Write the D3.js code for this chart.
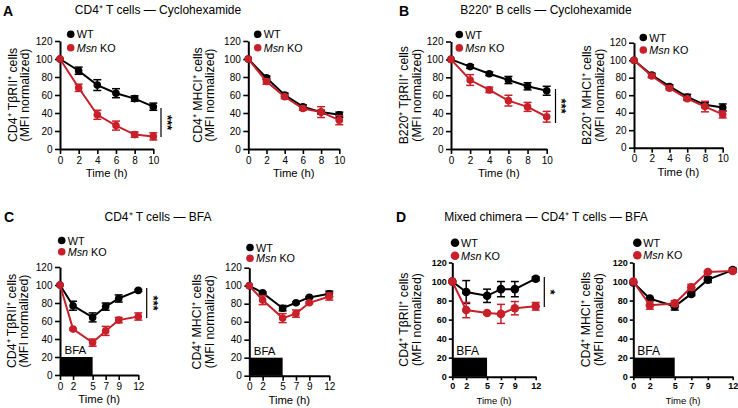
<!DOCTYPE html>
<html><head><meta charset="utf-8">
<script src="https://cdn.jsdelivr.net/npm/d3@7"></script>
<style>
html,body{margin:0;padding:0;background:#fff;}
svg text{font-family:"Liberation Sans",Arial,Helvetica,sans-serif;fill:#000;}
</style></head>
<body><svg id="chart" width="738" height="408"></svg>
<script>
// ---------- data ----------
const cycloTime = [0, 2, 4, 6, 8, 10];
const bfaTime = [0, 2, 5, 7, 9, 12];
const yTicks = [0, 20, 40, 60, 80, 100, 120];
const seriesNames = ["WT", "Msn KO"];

// A: CD4+ T cells — Cyclohexamide
const aTbrWT = [100, 87, 71, 62, 56, 47];
const aTbrWTErr = [0, 4, 6, 5, 3, 4];
const aTbrKO = [100, 68, 38, 26, 16, 14];
const aTbrKOErr = [0, 4, 5, 5, 3, 4];
const aMhcWT = [100, 79, 60, 47, 41, 38];
const aMhcWTErr = [0, 2, 2, 2, 2, 3];
const aMhcKO = [100, 75, 58, 45, 41, 32];
const aMhcKOErr = [0, 3, 2, 2, 6, 5];
// B: B220+ B cells — Cyclohexamide
const bTbrWT = [100, 92, 84, 77, 70, 65];
const bTbrWTErr = [0, 2, 2, 4, 4, 5];
const bTbrKO = [100, 77, 66, 54, 47, 36];
const bTbrKOErr = [0, 6, 3, 6, 5, 6];
const bMhcWT = [100, 83, 70, 58, 49, 46];
const bMhcWTErr = [0, 2, 2, 3, 3, 4];
const bMhcKO = [100, 82, 68, 56, 47, 38];
const bMhcKOErr = [0, 2, 2, 2, 6, 4];
// C: CD4+ T cells — BFA
const cTbrWT = [100, 77, 64, 76, 85, 94];
const cTbrWTErr = [0, 5, 5, 4, 4, 1];
const cTbrKO = [100, 51, 36, 49, 61, 65];
const cTbrKOErr = [0, 1, 4, 5, 3, 4];
const cMhcWT = [100, 92, 75, 81, 87, 91];
const cMhcWTErr = [0, 1, 3, 1, 1, 3];
const cMhcKO = [100, 84, 64, 69, 81, 88];
const cMhcKOErr = [0, 5, 5, 4, 1, 4];
// D: Mixed chimera — CD4+ T cells — BFA
const dTbrWT = [100, 89, 85, 92, 92, 103];
const dTbrWTErr = [0, 12, 7, 8, 8, 2];
const dTbrKO = [100, 70, 67, 66, 72, 74];
const dTbrKOErr = [0, 8, 1, 10, 7, 4];
const dMhcWT = [99, 82, 74, 87, 102, 112];
const dMhcWTErr = [0, 1, 4, 2, 3, 2];
const dMhcKO = [100, 75, 77, 94, 110, 111];
const dMhcKOErr = [0, 4, 3, 3, 1, 1];
const bfaWindow = [0, 5];   // hours of BFA treatment
const bfaBarHeight = 20;    // drawn height of the BFA bar in axis units

// ---------- helpers ----------
const RED = "#c8202a";
const svg = d3.select("#chart");

const titles = [
  {letter: "A", lx: 3, ly: 16, text: "CD4⁺ T cells — Cyclohexamide", cx: 158, cy: 14},
  {letter: "B", lx: 399, ly: 16, text: "B220⁺ B cells — Cyclohexamide", cx: 546, cy: 14},
  {letter: "C", lx: 4, ly: 222, text: "CD4⁺ T cells — BFA", cx: 158, cy: 221},
  {letter: "D", lx: 396, ly: 222, text: "Mixed chimera — CD4⁺ T cells — BFA", cx: 546, cy: 221}
];

const plots = [
  {time: cycloTime, xmax: 10, box: [60, 153.3, 149, 41], ylabel: "CD4⁺ TβRII⁺ cells",
   wt: aTbrWT, wtErr: aTbrWTErr, ko: aTbrKO, koErr: aTbrKOErr,
   leg: [70.7, 34.3, 13.4], ylx: [13, 25], sig: {x: 161, y1: 108, y2: 137, t: "***", tx: 167}},
  {time: cycloTime, xmax: 10, box: [248.3, 339.3, 149, 41], ylabel: "CD4⁺ MHCI⁺ cells",
   wt: aMhcWT, wtErr: aMhcWTErr, ko: aMhcKO, koErr: aMhcKOErr,
   leg: [257.7, 34.3, 13.4], ylx: [198, 210]},
  {time: cycloTime, xmax: 10, box: [451, 546.7, 149, 41.5], ylabel: "B220⁺ TβRII⁺ cells",
   wt: bTbrWT, wtErr: bTbrWTErr, ko: bTbrKO, koErr: bTbrKOErr,
   leg: [459.3, 34.5, 13.4], ylx: [404, 417], sig: {x: 555.5, y1: 89, y2: 123, t: "***", tx: 561.5}},
  {time: cycloTime, xmax: 10, box: [634, 722.7, 147.7, 42.7], ylabel: "B220⁺ MHCI⁺ cells",
   wt: bMhcWT, wtErr: bMhcWTErr, ko: bMhcKO, koErr: bMhcKOErr,
   leg: [643.3, 37.5, 12.5], ylx: [587, 600]},
  {time: bfaTime, xmax: 12, box: [60, 138.3, 375, 267], ylabel: "CD4⁺ TβRII⁺ cells",
   wt: cTbrWT, wtErr: cTbrWTErr, ko: cTbrKO, koErr: cTbrKOErr, bfa: true,
   leg: [61.7, 240.5, 11.2], ylx: [12, 24], sig: {x: 146.7, y1: 288, y2: 318, t: "***", tx: 153}},
  {time: bfaTime, xmax: 12, box: [249.3, 329.3, 375.7, 267.7], ylabel: "CD4⁺ MHCI⁺ cells",
   wt: cMhcWT, wtErr: cMhcWTErr, ko: cMhcKO, koErr: cMhcKOErr, bfa: true,
   leg: [250, 247.5, 10.8], ylx: [197, 210]},
  {time: bfaTime, xmax: 12, box: [452.3, 535.7, 376.7, 262.5], ylabel: "CD4⁺ TβRII⁺ cells",
   wt: dTbrWT, wtErr: dTbrWTErr, ko: dTbrKO, koErr: dTbrKOErr, bfa: true, small: true,
   leg: [455, 242.7, 13], ylx: [404, 417], sig: {x: 544.3, y1: 277, y2: 307, t: "*", tx: 550}},
  {time: bfaTime, xmax: 12, box: [633.3, 732.7, 376.7, 262.5], ylabel: "CD4⁺ MHCI⁺ cells",
   wt: dMhcWT, wtErr: dMhcWTErr, ko: dMhcKO, koErr: dMhcKOErr, bfa: true, small: true,
   leg: [637.3, 242.7, 12.5], ylx: [586, 599]}
];

// ---------- titles ----------
titles.forEach(t => {
  svg.append("text").attr("x", t.lx).attr("y", t.ly).attr("font-size", 14)
    .attr("font-weight", "bold").text(t.letter);
  svg.append("text").attr("x", t.cx).attr("y", t.cy).attr("font-size", 12)
    .attr("text-anchor", "middle").text(t.text);
});

// ---------- panels ----------
plots.forEach(p => {
  const [x0, x1, yb, yt] = p.box;
  const x = d3.scaleLinear().domain([0, p.xmax]).range([x0, x1]);
  const y = d3.scaleLinear().domain([0, 120]).range([yb, yt]);
  const g = svg.append("g");
  const tickFont = p.small ? 9 : 10;

  // BFA bar
  if (p.bfa) {
    g.append("rect").attr("x", x(bfaWindow[0])).attr("y", y(bfaBarHeight))
      .attr("width", x(bfaWindow[1]) - x(bfaWindow[0]))
      .attr("height", y(0) - y(bfaBarHeight)).attr("fill", "#000");
    g.append("text").attr("x", x(bfaWindow[0]) + (p.small ? 4 : 4.5))
      .attr("y", y(bfaBarHeight) - 3).attr("font-size", p.small ? 12 : 11.5).text("BFA");
  }

  // axes
  const ya = g.append("g").attr("transform", `translate(${x0},0)`)
    .call(d3.axisLeft(y).tickValues(yTicks).tickSize(p.small ? 3.5 : 5).tickPadding(p.small ? 2 : 2.5).tickSizeOuter(0));
  const xa = g.append("g").attr("transform", `translate(0,${yb})`)
    .call(d3.axisBottom(x).tickValues(p.time).tickSize(p.small ? 3.5 : 5).tickPadding(p.small ? 2 : 2.5).tickSizeOuter(0));
  [ya, xa].forEach(a => {
    a.select(".domain").attr("stroke", "#000").attr("stroke-width", 2);
    a.selectAll(".tick line").attr("stroke", "#000").attr("stroke-width", 1.6);
    a.selectAll(".tick text").attr("font-size", tickFont)
      .attr("font-weight", p.small ? "bold" : "normal").attr("fill", "#000");
  });

  // axis titles
  g.append("text").attr("x", (x0 + x1) / 2).attr("y", yb + (p.small ? 27 : 28))
    .attr("text-anchor", "middle").attr("font-size", p.small ? 9.5 : 11.3).text("Time (h)");
  const cy = (yb + yt) / 2;
  [p.ylabel, "(MFI normalized)"].forEach((lab, i) => {
    g.append("text").attr("transform", `translate(${p.ylx[i]},${cy}) rotate(-90)`)
      .attr("text-anchor", "middle").attr("dominant-baseline", "central")
      .attr("font-size", 12.3).text(lab);
  });

  // series
  const r = p.small ? 4.3 : 3.8;
  const series = [
    {vals: p.wt, err: p.wtErr, color: "#000"},
    {vals: p.ko, err: p.koErr, color: RED}
  ];
  const line = d3.line().x(d => x(d.t)).y(d => y(d.v));
  series.forEach(s => {
    const pts = p.time.map((t, i) => ({t, v: s.vals[i], e: s.err[i]}));
    const sg = g.append("g");
    sg.append("path").datum(pts).attr("d", line).attr("fill", "none")
      .attr("stroke", s.color).attr("stroke-width", 2);
    const eb = sg.selectAll(".eb").data(pts.filter(d => d.e > 0)).join("g");
    eb.append("line").attr("x1", d => x(d.t)).attr("x2", d => x(d.t))
      .attr("y1", d => y(d.v - d.e)).attr("y2", d => y(d.v + d.e))
      .attr("stroke", s.color).attr("stroke-width", 1.5);
    [1, -1].forEach(sgn => {
      eb.append("line").attr("x1", d => x(d.t) - 4).attr("x2", d => x(d.t) + 4)
        .attr("y1", d => y(d.v + sgn * d.e)).attr("y2", d => y(d.v + sgn * d.e))
        .attr("stroke", s.color).attr("stroke-width", 1.5);
    });
    sg.selectAll("circle").data(pts).join("circle")
      .attr("cx", d => x(d.t)).attr("cy", d => y(d.v)).attr("r", r).attr("fill", s.color);
  });

  // legend
  const [lx, ly, lstep] = p.leg;
  seriesNames.forEach((name, i) => {
    const yy = ly + i * lstep;
    g.append("circle").attr("cx", lx).attr("cy", yy).attr("r", r).attr("fill", i ? RED : "#000");
    const t = g.append("text").attr("x", lx + 6).attr("y", yy).attr("dominant-baseline", "central")
      .attr("font-size", 10.8);
    if (i) {
      t.append("tspan").attr("font-style", "italic").text("Msn");
      t.append("tspan").text(" KO");
    } else t.text(name);
  });

  // significance
  if (p.sig) {
    g.append("line").attr("x1", p.sig.x).attr("x2", p.sig.x).attr("y1", p.sig.y1).attr("y2", p.sig.y2)
      .attr("stroke", "#000").attr("stroke-width", 1.2);
    g.append("text").attr("transform", `translate(${p.sig.tx},${(p.sig.y1 + p.sig.y2) / 2}) rotate(90)`)
      .attr("text-anchor", "middle").attr("dominant-baseline", "central")
      .attr("font-size", 13).attr("font-weight", "bold").text(p.sig.t);
  }
});
</script></body></html>
